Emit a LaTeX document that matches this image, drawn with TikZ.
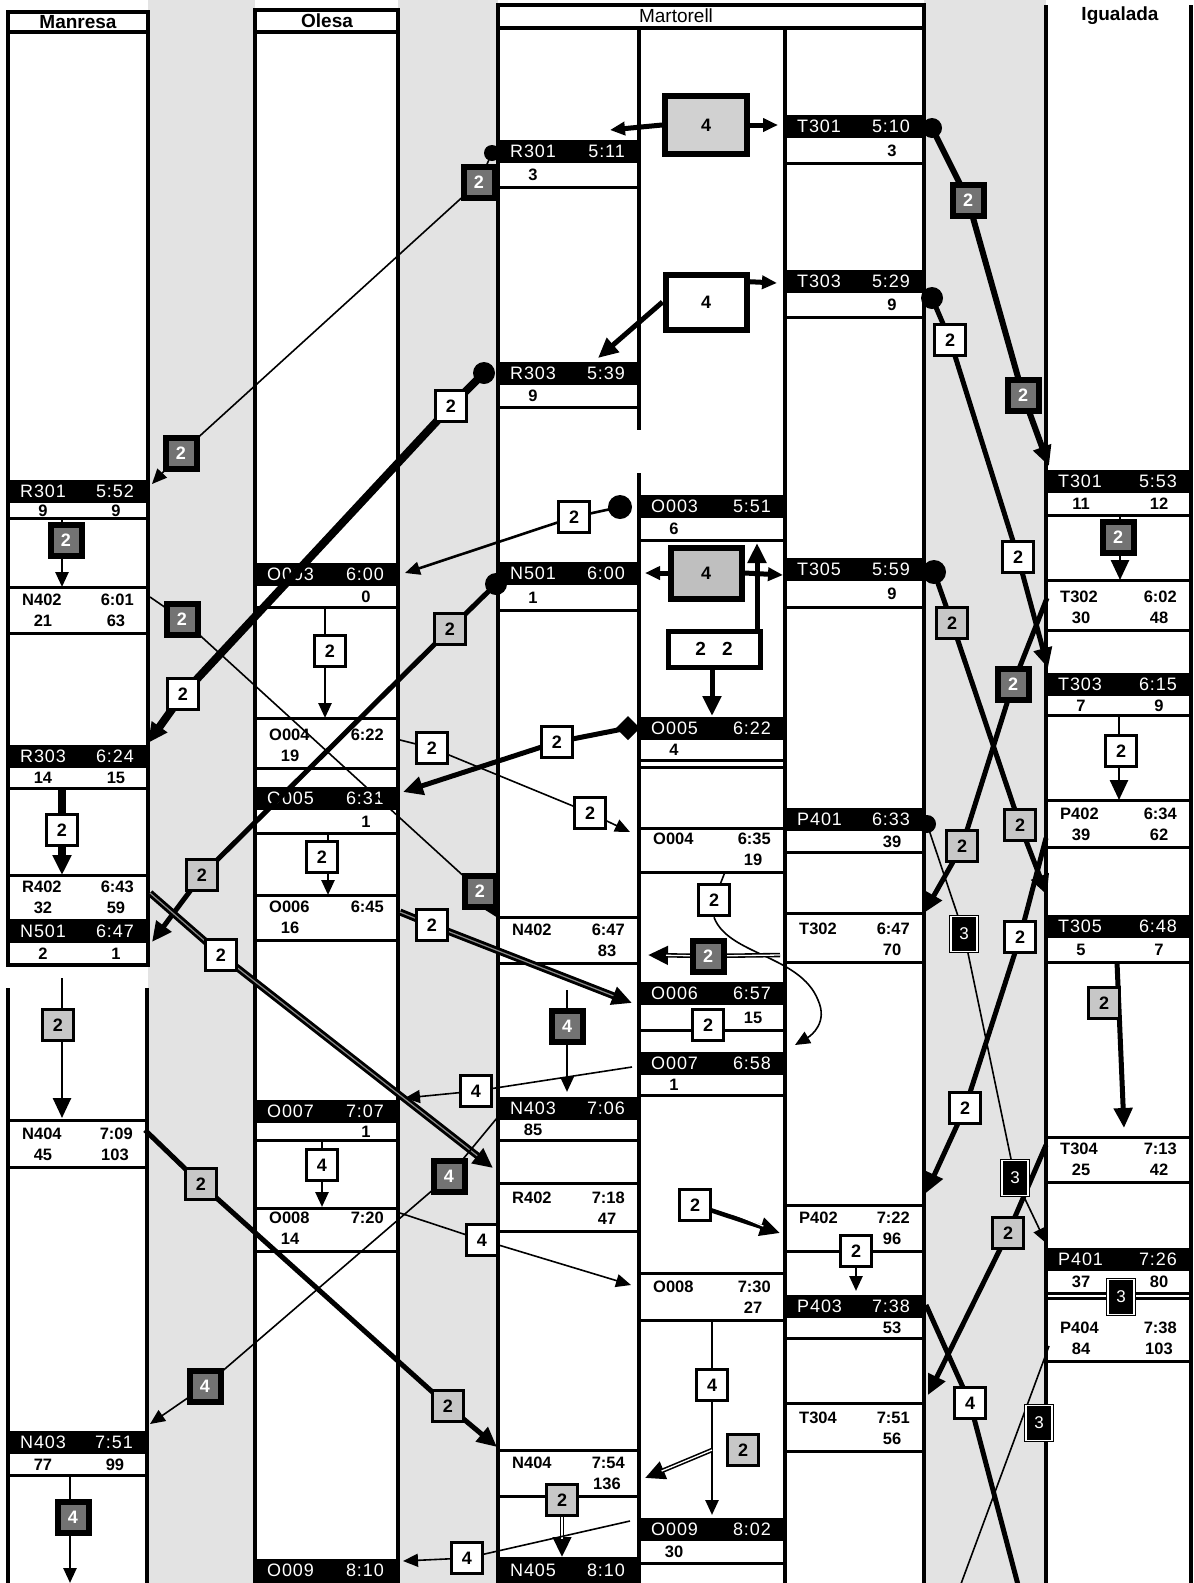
\documentclass[tikz,border=0pt]{standalone}
\usepackage{fontspec}
\setmainfont{Liberation Sans}
\usetikzlibrary{arrows.meta}
\pgfdeclarelayer{bg}
\pgfdeclarelayer{conn}
\pgfsetlayers{bg,conn,main}
\definecolor{stip}{gray}{0.89}
\newcommand\fbar{\fontsize{18}{20}\selectfont\addfontfeatures{LetterSpace=5}}
\newcommand\fbld{\fontsize{16.5}{18}\selectfont\bfseries}
\newcommand\fnum{\fontsize{18}{18}\selectfont\bfseries}
\newcommand\fhead{\fontsize{19}{20}\selectfont\bfseries}
\tikzset{
  colline/.style={line width=3.8pt},
  rowline/.style={line width=3pt},
  bartxt/.style={text=white,font=\fbar,inner sep=0pt},
  evtxt/.style={font=\fbld,inner sep=0pt},
  bx/.style={minimum width=31pt,minimum height=31pt,inner sep=0pt,font=\fnum},
  bw/.style={bx,draw=black,fill=white,line width=3.5pt},
  bd/.style={bx,draw=black,fill=black!55,line width=6pt,text=white},
  bs/.style={bx,draw=black,fill=black!22,line width=3pt},
  bthree/.style={minimum width=26pt,minimum height=35pt,inner sep=0pt,draw=black,double=white,double distance=1.3pt,line width=1.3pt,fill=black,text=white,font=\fontsize{17}{18}\selectfont},
  big/.style={draw=black,line width=6pt,inner sep=0pt,font=\fnum},
  cthin/.style={line width=1.6pt},
  cmed/.style={line width=2.6pt},
  cthick/.style={line width=5pt,line join=round},
  cfat/.style={line width=8pt,line join=round},
  dblk/.style={line width=7pt,line join=round},
  dgry/.style={line width=1.2pt,black!45},
  dwht/.style={line width=1.3pt,white},
  tipM/.style={-{Triangle[length=15pt,width=13pt]}},
  tipL/.style={-{Triangle[length=20pt,width=18pt]}},
}
% black bar event: id xl xr ytop rowbottom name time leftval rightval
\newcommand\bbar[9]{%
  \fill ({#2},{#4}) rectangle ({#3},{#4+23});
  \node[bartxt,anchor=west] (#1n) at ({#2+12},{#4+11.5}) {#6};
  \node[bartxt,anchor=east] (#1t) at ({#3-14},{#4+11.5}) {#7};
  \draw[rowline] ({#2},{#5}) -- ({#3},{#5});
  \node[evtxt] (#1a) at ({#2+35},{(#4+23+#5)/2}) {#8};
  \node[evtxt] (#1b) at ({#3-32},{(#4+23+#5)/2}) {#9};
}
% white event: id xl xr ytop ybot name time leftval rightval
\newcommand\wev[9]{%
  \draw[rowline] ({#2},{#4}) -- ({#3},{#4});
  \draw[rowline] ({#2},{#5}) -- ({#3},{#5});
  \node[evtxt,anchor=west] (#1n) at ({#2+14},{#5-33}) {#6};
  \node[evtxt,anchor=east] (#1t) at ({#3-14},{#5-33}) {#7};
  \node[evtxt] (#1a) at ({#2+35},{#5-12}) {#8};
  \node[evtxt] (#1b) at ({#3-32},{#5-12}) {#9};
}
\begin{document}
\begin{tikzpicture}[x=1pt,y=-1pt]
\path[use as bounding box] (0,0) rectangle (1194,1583);
\begin{pgfonlayer}{bg}
\fill[stip] (148,0) rectangle (255,1583);
\fill[stip] (398,0) rectangle (498,1583);
\fill[stip] (924,0) rectangle (1046,1583);
\fill[white] (8,12) rectangle (148,965);
\fill[white] (8,988) rectangle (147,1583);
\fill[white] (255,10) rectangle (398,1583);
\fill[white] (498,5) rectangle (924,1583);
% column outlines
\draw[colline] (8,12) rectangle (148,32);
\draw[colline] (8,32) -- (8,965) -- (148,965) -- (148,32);
\draw[colline] (8,988) -- (8,1590);
\draw[colline] (147,988) -- (147,1590);
\draw[colline] (255,10) rectangle (398,32);
\draw[colline] (255,32) -- (255,1590);
\draw[colline] (398,32) -- (398,1590);
\draw[colline] (498,5) rectangle (924,28);
\draw[colline] (498,28) -- (498,1590);
\draw[colline] (639,28) -- (639,430);
\draw[colline] (639,473) -- (639,1590);
\draw[colline] (785,28) -- (785,1590);
\draw[colline] (924,28) -- (924,1590);
\draw[colline] (1046,5) -- (1046,1590);
\draw[colline] (1191,5) -- (1191,1590);
\node[font=\fhead] (hMan) at (78,22) {Manresa};
\node[font=\fhead] (hOle) at (327,21) {Olesa};
\node[font=\fontsize{19}{20}\selectfont] (hMar) at (676,16) {Martorell};
\node[font=\fhead] (hIgu) at (1120,16) {Igualada};
% Manresa
\bbar{mR301}{8}{148}{480}{518}{R301}{5:52}{9}{9}
\wev{mN402}{8}{148}{587}{633}{N402}{6:01}{21}{63}
\bbar{mR303}{8}{148}{745}{788}{R303}{6:24}{14}{15}
\wev{mR402}{8}{148}{875}{920}{R402}{6:43}{32}{59}
\bbar{mN501}{8}{148}{920}{965}{N501}{6:47}{2}{1}
\wev{mN404}{8}{147}{1120}{1167}{N404}{7:09}{45}{103}
\bbar{mN403}{8}{147}{1431}{1475}{N403}{7:51}{77}{99}
% Olesa
\bbar{oO003}{255}{398}{563}{607}{O003}{6:00}{}{0}
\wev{oO004}{255}{398}{718}{768}{O004}{6:22}{19}{}
\bbar{oO005}{255}{398}{787}{833}{O005}{6:31}{}{1}
\wev{oO006}{255}{398}{895}{940}{O006}{6:45}{16}{}
\bbar{oO007}{255}{398}{1100}{1140}{O007}{7:07}{}{1}
\wev{oO008}{255}{398}{1208}{1251}{O008}{7:20}{14}{}
\fill (255,1559) rectangle (398,1590);
\node[bartxt,anchor=west] (oO009n) at (267,1570) {O009};
\node[bartxt,anchor=east] (oO009t) at (384,1570) {8:10};
% Martorell 1
\bbar{aR301}{498}{639}{140}{187}{R301}{5:11}{3}{}
\bbar{aR303}{498}{639}{362}{407}{R303}{5:39}{9}{}
\bbar{aN501}{498}{639}{562}{610}{N501}{6:00}{1}{}
\wev{aN402}{498}{639}{917}{963}{N402}{6:47}{}{83}
\bbar{aN403}{498}{639}{1097}{1140}{N403}{7:06}{85}{}
\wev{aR402}{498}{639}{1183}{1231}{R402}{7:18}{}{47}
\wev{aN404}{498}{639}{1450}{1496}{N404}{7:54}{}{136}
\fill (498,1557) rectangle (639,1590);
\node[bartxt,anchor=west] (aN405n) at (510,1570) {N405};
\node[bartxt,anchor=east] (aN405t) at (625,1570) {8:10};
% Martorell 2
\bbar{bO003}{639}{785}{495}{540}{O003}{5:51}{6}{}
\bbar{bO005}{639}{785}{717}{760}{O005}{6:22}{4}{}
\draw[rowline] (639,767) -- (785,767);
\wev{bO004}{639}{785}{828}{872}{O004}{6:35}{}{19}
\bbar{bO006}{639}{785}{982}{1030}{O006}{6:57}{}{15}
\bbar{bO007}{639}{785}{1052}{1095}{O007}{6:58}{1}{}
\wev{bO008}{639}{785}{1273}{1320}{O008}{7:30}{}{27}
\bbar{bO009}{639}{785}{1518}{1563}{O009}{8:02}{30}{}
% Martorell 3
\bbar{cT301}{785}{924}{115}{163}{T301}{5:10}{}{3}
\bbar{cT303}{785}{924}{270}{317}{T303}{5:29}{}{9}
\bbar{cT305}{785}{924}{558}{607}{T305}{5:59}{}{9}
\bbar{cP401}{785}{924}{808}{852}{P401}{6:33}{}{39}
\wev{cT302}{785}{924}{913}{962}{T302}{6:47}{}{70}
\wev{cP402}{785}{924}{1205}{1251}{P402}{7:22}{}{96}
\bbar{cP403}{785}{924}{1295}{1338}{P403}{7:38}{}{53}
\wev{cT304}{785}{924}{1403}{1451}{T304}{7:51}{}{56}
% Igualada
\bbar{iT301}{1046}{1191}{470}{515}{T301}{5:53}{11}{12}
\wev{iT302}{1046}{1191}{580}{630}{T302}{6:02}{30}{48}
\bbar{iT303}{1046}{1191}{673}{715}{T303}{6:15}{7}{9}
\wev{iP402}{1046}{1191}{800}{847}{P402}{6:34}{39}{62}
\bbar{iT305}{1046}{1191}{915}{962}{T305}{6:48}{5}{7}
\wev{iT304}{1046}{1191}{1137}{1182}{T304}{7:13}{25}{42}
\bbar{iP401}{1046}{1191}{1248}{1293}{P401}{7:26}{37}{80}
\wev{iP404}{1046}{1191}{1298}{1361}{P404}{7:38}{84}{103}
\end{pgfonlayer}
% ---------- boxes ----------
\node[bd] (k1a) at (479,182) {2};
\node[bd] (k1b) at (181,453) {2};
\node[bw] (k2a) at (451,406) {2};
\node[bw] (k2b) at (183,694) {2};
\node[bw] (k3) at (574,517) {2};
\node[bs] (k4a) at (450,629) {2};
\node[bs] (k4b) at (202,875) {2};
\node[bw] (k5) at (557,742) {2};
\node[bd] (k6a) at (182,619) {2};
\node[bd] (k6b) at (480,891) {2};
\node[bw] (k7a) at (432,748) {2};
\node[bw] (k7b) at (590,813) {2};
\node[bw] (k8) at (221,955) {2};
\node[bw] (k9) at (432,925) {2};
\node[bw] (k10) at (714,900) {2};
\node[bd] (k11) at (708,956) {2};
\node[bw] (k12) at (708,1025) {2};
\node[bd] (k13) at (567,1026) {4};
\node[bw] (k14) at (476,1091) {4};
\node[bd] (k15a) at (449,1176) {4};
\node[bd] (k15b) at (205,1386) {4};
\node[bw] (k16) at (482,1240) {4};
\node[bs] (k17a) at (201,1184) {2};
\node[bs] (k17b) at (448,1406) {2};
\node[bw] (k18) at (712,1385) {4};
\node[bs] (k19) at (743,1450) {2};
\node[bs] (k20) at (562,1500) {2};
\node[bw] (k21) at (467,1558) {4};
\node[bw] (k22) at (695,1205) {2};
\node[bw] (k23) at (856,1251) {2};
\node[big,fill=black!18,minimum width=82pt,minimum height=58pt] (K24) at (706,125) {4};
\node[big,fill=white,minimum width=81pt,minimum height=55pt] (K25) at (706,302) {4};
\node[big,fill=black!25,minimum width=71pt,minimum height=51pt] (K26) at (706,573) {4};
\node[big,fill=white,line width=5pt,minimum width=92pt,minimum height=36pt,font=\fontsize{19}{19}\selectfont\bfseries] (K27) at (714,649) {2\hspace{16pt}2};
\node[bd] (k28a) at (968,200) {2};
\node[bd] (k28b) at (1023,395) {2};
\node[bw] (k29a) at (950,340) {2};
\node[bw] (k29b) at (1018,557) {2};
\node[bs] (k30a) at (952,623) {2};
\node[bs] (k30b) at (1020,825) {2};
\node[bd] (k31a) at (1013,684) {2};
\node[bs] (k31b) at (962,846) {2};
\node[bw] (k32a) at (1020,937) {2};
\node[bw] (k32b) at (965,1108) {2};
\node[bs] (k33) at (1008,1233) {2};
\node[bw] (k34) at (970,1403) {4};
\node[bthree] (k35a) at (964,934) {3};
\node[bthree] (k35b) at (1015,1178) {3};
\node[bthree] (k36) at (1039,1423) {3};
\node[bthree] (k37) at (1121,1297) {3};
\node[bd] (k38) at (66,540) {2};
\node[bw] (k39) at (62,830) {2};
\node[bs] (k40) at (58,1025) {2};
\node[bd] (k41) at (73,1517) {4};
\node[bw] (k42) at (330,651) {2};
\node[bw] (k43) at (322,857) {2};
\node[bw] (k44) at (322,1165) {4};
\node[bd] (k45) at (1118,537) {2};
\node[bw] (k46) at (1121,751) {2};
\node[bs] (k47) at (1104,1003) {2};
% ---------- connectors ----------
\begin{pgfonlayer}{conn}
\coordinate (s1) at (492,153); \coordinate (e1) at (152,484);
\coordinate (s2) at (484,373); \coordinate (e2) at (148,743);
\coordinate (s3) at (620,507); \coordinate (e3) at (405,573);
\coordinate (s4) at (496,584); \coordinate (e4) at (152,942);
\coordinate (s5) at (628,728); \coordinate (e5) at (403,792);
\coordinate (s6) at (150,597); \coordinate (e6) at (498,918);
\coordinate (s7) at (400,740); \coordinate (e7) at (630,832);
\coordinate (s8) at (150,893); \coordinate (e8) at (493,1168);
\coordinate (s9) at (400,912); \coordinate (e9) at (632,1003);
\coordinate (s10) at (725,872); \coordinate (e10) at (795,1045);
\coordinate (s11) at (780,955); \coordinate (e11) at (648,955);
\coordinate (s13) at (567,990); \coordinate (e13) at (567,1092);
\coordinate (s14) at (632,1067); \coordinate (e14) at (405,1098);
\coordinate (s15) at (497,1118); \coordinate (e15) at (150,1424);
\coordinate (s16) at (400,1213); \coordinate (e16) at (631,1285);
\coordinate (s17) at (145,1130); \coordinate (e17) at (497,1447);
\coordinate (s18) at (712,1320); \coordinate (e18) at (712,1515);
\coordinate (s19) at (712,1450); \coordinate (e19) at (645,1478);
\coordinate (e20) at (562,1557);
\coordinate (s21) at (630,1521); \coordinate (e21) at (403,1561);
\coordinate (e22) at (780,1233);
\coordinate (e23) at (856,1291);
\coordinate (e24a) at (610,130); \coordinate (e24b) at (778,125);
\coordinate (e25a) at (777,283); \coordinate (e25b) at (598,358);
\coordinate (e26a) at (645,573); \coordinate (e26b) at (783,575);
\coordinate (e27a) at (757,543); \coordinate (e27b) at (712,716);
\coordinate (s28) at (932,128); \coordinate (e28) at (1049,466);
\coordinate (s29) at (932,298); \coordinate (e29) at (1048,668);
\coordinate (s30) at (934,572); \coordinate (e30) at (1047,895);
\coordinate (s31) at (1047,598); \coordinate (e31) at (924,913);
\coordinate (s32) at (1046,838); \coordinate (e32) at (926,1193);
\coordinate (s33) at (1046,1145); \coordinate (e33) at (928,1395);
\coordinate (s34) at (926,1305); \coordinate (e34) at (1022,1600);
\coordinate (s35) at (927,824); \coordinate (e35) at (1046,1243);
\coordinate (s36) at (1049,1346); \coordinate (e36) at (955,1600);
\coordinate (s38) at (62,518); \coordinate (e38) at (62,587);
\coordinate (s39) at (62,788); \coordinate (e39) at (62,875);
\coordinate (s40) at (62,978); \coordinate (e40) at (62,1118);
\coordinate (s41) at (70,1475); \coordinate (e41) at (70,1583);
\coordinate (s42) at (325,607); \coordinate (e42) at (325,718);
\coordinate (s43) at (328,833); \coordinate (e43) at (328,895);
\coordinate (s44) at (322,1140); \coordinate (e44) at (322,1207);
\coordinate (s45) at (1120,515); \coordinate (e45) at (1120,580);
\coordinate (s46) at (1119,715); \coordinate (e46) at (1119,800);
\coordinate (s47) at (1117,962); \coordinate (e47) at (1124,1128);
% dots and diamond
\fill (s1) circle[radius=8pt];
\fill (s2) circle[radius=11pt];
\fill (s3) circle[radius=12pt];
\fill (s4) circle[radius=11pt];
\fill[shift={(s5)}] (-12,0) -- (0,-12) -- (12,0) -- (0,12) -- cycle;
\fill (s28) circle[radius=10pt];
\fill (s29) circle[radius=11pt];
\fill (s30) circle[radius=12pt];
\fill (s35) circle[radius=9pt];
% left side
\draw[cthin,tipM] (s1) -- (k1a.center) -- (k1b.center) -- (e1);
\draw[cfat,tipL] (s2) -- (k2a.center) -- (k2b.center) -- (e2);
\draw[cmed,tipM] (s3) -- (k3.center) -- (e3);
\draw[cthick,tipL] (s4) -- (k4a.center) -- (k4b.center) -- (e4);
\draw[cthick,tipL] (s5) -- (k5.center) -- (e5);
\draw[cthin,tipM] (s6) -- (k6a.center) -- (k6b.center) -- (e6);
\draw[cthin,tipM] (s7) -- (k7a.center) -- (k7b.center) -- (e7);
\draw[dblk,tipL] (s8) -- (k8.center) -- (e8);
\draw[dgry,shorten >=20pt] (s8) -- (k8.center) -- (e8);
\draw[dblk,tipL] (s9) -- (k9.center) -- (e9);
\draw[dgry,shorten >=20pt] (s9) -- (k9.center) -- (e9);
\draw[cthin] (s10) -- (k10.center);
\draw[cthin,tipM] (k10.south) .. controls (728,955) and (800,955) .. (818,1000) .. controls (828,1022) and (812,1035) .. (e10);
\draw[line width=4.5pt,tipL] (s11) -- (k11.center) -- (e11);
\draw[dwht,shorten >=18pt] (s11) -- (k11.center) -- (e11);
\draw[cmed,tipM] (s13) -- (k13.center) -- (e13);
\draw[cthin,tipM] (s14) -- (k14.center) -- (e14);
\draw[cthin,tipM] (s15) -- (k15a.center) -- (k15b.center) -- (e15);
\draw[cthin,tipM] (s16) -- (k16.center) -- (e16);
\draw[cthick,tipL] (s17) -- (k17a.center) -- (k17b.center) -- (e17);
\draw[cmed,tipM] (s18) -- (k18.center) -- (e18);
\draw[line width=4.5pt,tipL] (s19) -- (e19);
\draw[dwht,shorten >=18pt] (s19) -- (e19);
\draw[line width=4.5pt,tipL] (k20.center) -- (e20);
\draw[dwht,shorten >=18pt] (k20.south) -- (e20);
\draw[cthin,tipM] (s21) -- (k21.center) -- (e21);
\draw[line width=4.5pt,tipL] (k22.center) -- (e22);
\draw[dwht,shorten >=18pt] (k22.east) -- (e22);
\draw[cmed,tipM] (k23.center) -- (e23);
% big boxes
\draw[cthick,tipM] (K24.west) -- (e24a);
\draw[cthick,tipM] (K24.east) -- (e24b);
\draw[cthick,tipM] (K25.25) -- (e25a);
\draw[cthick,tipL] (K25.west) -- (e25b);
\draw[cthick,tipM] (K26.west) -- (e26a);
\draw[cthick,tipM] (K26.east) -- (e26b);
\draw[cthick,tipL] (K27.north -| e27a) -- (e27a);
\draw[cthick,tipL] (K27.south -| e27b) -- (e27b);
% right side
\draw[line width=6pt,line join=round,tipL] (s28) -- (k28a.center) -- (k28b.center) -- (e28);
\draw[cthick,tipL] (s29) -- (k29a.center) -- (k29b.center) -- (e29);
\draw[cthick,tipL] (s30) -- (k30a.center) -- (k30b.center) -- (e30);
\draw[cthick,tipL] (s31) -- (k31a.center) -- (k31b.center) -- (e31);
\draw[cthick,tipL] (s32) -- (k32a.center) -- (k32b.center) -- (e32);
\draw[cthick,tipL] (s33) -- (k33.center) -- (e33);
\draw[cthick] (s34) -- (k34.center) -- (e34);
\draw[cthin,tipM] (s35) -- (k35a.center) -- (k35b.center) -- (e35);
\draw[cthin] (s36) -- (e36);
% vertical arrows inside columns
\draw[cmed,tipM] (s38) -- (e38);
\draw[cfat,tipL] (s39) -- (e39);
\draw[cmed,tipL] (s40) -- (e40);
\draw[cmed,tipM] (s41) -- (e41);
\draw[cmed,tipM] (s42) -- (e42);
\draw[cmed,tipM] (s43) -- (e43);
\draw[cmed,tipM] (s44) -- (e44);
\draw[cmed,tipL] (s45) -- (e45);
\draw[cmed,tipL] (s46) -- (e46);
\draw[cthick,tipL] (s47) -- (e47);
\end{pgfonlayer}
\end{tikzpicture}
\end{document}
